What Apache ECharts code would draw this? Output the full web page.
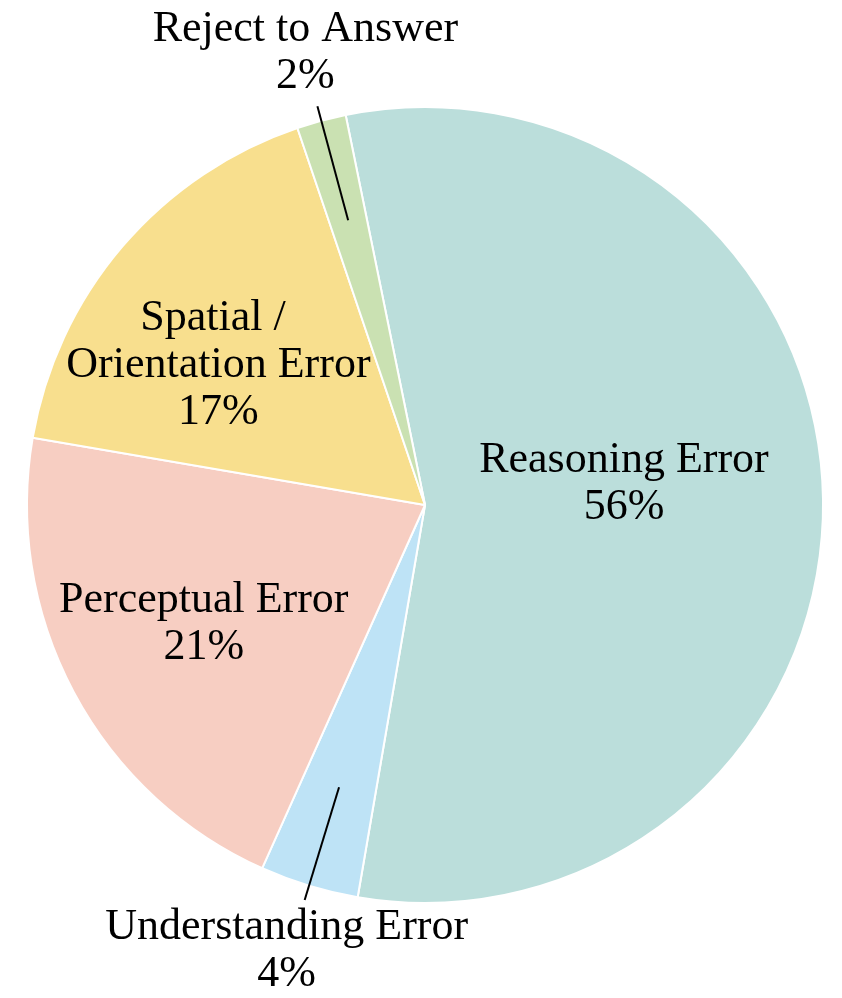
<!DOCTYPE html>
<html>
<head>
<meta charset="utf-8">
<script src="https://cdn.jsdelivr.net/npm/echarts@6/dist/echarts.min.js"></script>
<style>
html,body{margin:0;padding:0;background:#fff;}
#chart{width:842px;height:998px;}
</style>
</head>
<body>
<div id="chart"></div>
<script>
// ---- data ----
const categories = ['Reasoning Error', 'Understanding Error', 'Perceptual Error', 'Spatial / \nOrientation Error', 'Reject to Answer'];
const shares = [55.9, 4.0, 21.0, 17.1, 2.0];
const sliceColors = ['#BBDEDB', '#BEE3F6', '#F7CEC2', '#F8DF8E', '#CAE1B2'];
const insideLabelled = [true, false, true, true, false];

// ---- label styling (nudges relative to library-computed anchors) ----
const insideNudge = { 0: [-3, -18], 2: [-43, 24], 3: [-53, -8] };
const outsideNudge = { 1: [-18, 4, 'top'], 4: [-12, -6, 'bottom'] };

const textStyle = {
  fontFamily: 'Liberation Serif, Times New Roman, serif',
  fontSize: 44,
  lineHeight: 47,
  color: '#000'
};
const fmt = p => p.name + '\n' + Math.round(p.percent) + '%';

const mainData = categories.map((c, i) => ({
  name: c,
  value: shares[i],
  itemStyle: { color: sliceColors[i] },
  label: { show: insideLabelled[i] }
}));

const guideData = categories.map((c, i) => ({
  name: c,
  value: shares[i],
  label: { show: !insideLabelled[i] },
  labelLine: { show: !insideLabelled[i] }
}));

const chart = echarts.init(document.getElementById('chart'), null, { renderer: 'canvas' });
chart.setOption({
  animation: false,
  backgroundColor: '#fff',
  series: [
    {
      type: 'pie',
      z: 2,
      center: [425, 505],
      radius: [0, 398],
      startAngle: 101.5,
      clockwise: true,
      avoidLabelOverlap: false,
      emphasis: { disabled: true },
      itemStyle: { borderColor: '#fff', borderWidth: 2 },
      label: Object.assign({ position: 'inside', formatter: fmt, align: 'center' }, textStyle),
      labelLine: { show: false },
      labelLayout: function (p) {
        const n = insideNudge[p.dataIndex];
        if (!n || !p.labelRect) return {};
        return {
          x: p.labelRect.x + p.labelRect.width / 2 + n[0],
          y: p.labelRect.y + p.labelRect.height / 2 + n[1],
          align: 'center',
          verticalAlign: 'middle'
        };
      },
      data: mainData
    },
    {
      type: 'pie',
      z: 5,
      center: [425, 505],
      radius: [0, 295],
      startAngle: 101.5,
      clockwise: true,
      silent: true,
      avoidLabelOverlap: false,
      emphasis: { disabled: true },
      itemStyle: { color: 'rgba(0,0,0,0)', borderWidth: 0 },
      label: Object.assign({ position: 'outside', formatter: fmt, align: 'center' }, textStyle),
      labelLine: { length: 118, length2: 0, smooth: false, lineStyle: { color: '#000', width: 2 } },
      labelLayout: function (p) {
        const n = outsideNudge[p.dataIndex];
        if (!n || !p.labelLinePoints) return {};
        const end = p.labelLinePoints[p.labelLinePoints.length - 1];
        return {
          x: end[0] + n[0],
          y: end[1] + n[1],
          align: 'center',
          verticalAlign: n[2],
          labelLinePoints: p.labelLinePoints
        };
      },
      data: guideData
    }
  ]
});
</script>
</body>
</html>
